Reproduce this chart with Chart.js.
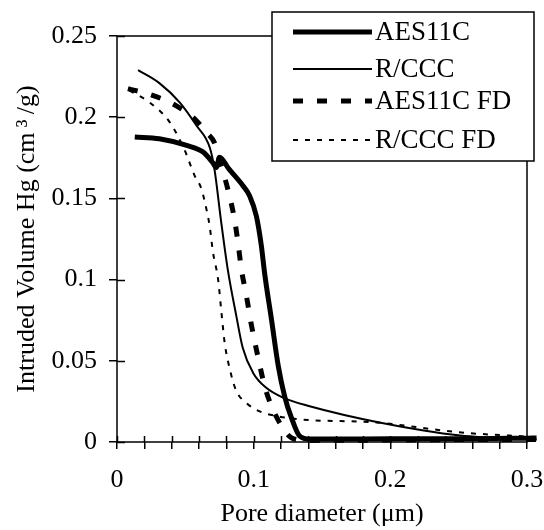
<!DOCTYPE html>
<html>
<head>
<meta charset="utf-8">
<script src="https://cdn.jsdelivr.net/npm/chart.js@4.4.1/dist/chart.umd.min.js"></script>
<style>
  html, body { margin: 0; padding: 0; background: #fff; }
  #wrap { width: 544px; height: 530px; }
</style>
</head>
<body>
<div id="wrap"><canvas id="chart"></canvas></div>
<script>
// values
const aes11cX = [0.013, 0.031, 0.051, 0.063, 0.070, 0.0727, 0.075, 0.082, 0.092, 0.097, 0.102, 0.1056, 0.108, 0.113, 0.118, 0.1227, 0.1276, 0.1337, 0.141, 0.16, 0.2, 0.25, 0.307]
const aes11cY = [0.1878, 0.1867, 0.1826, 0.1785, 0.172, 0.169, 0.1754, 0.168, 0.158, 0.1517, 0.139, 0.121, 0.104, 0.0756, 0.0468, 0.028, 0.015, 0.0036, 0.0018, 0.0018, 0.002, 0.002, 0.0025]

const rcccX = [0.0154, 0.031, 0.046, 0.058, 0.068, 0.0715, 0.076, 0.081, 0.0873, 0.092, 0.0995, 0.109, 0.1215, 0.141, 0.192, 0.251, 0.307]
const rcccY = [0.229, 0.221, 0.209, 0.195, 0.181, 0.167, 0.137, 0.1065, 0.0777, 0.058, 0.0427, 0.0335, 0.0273, 0.022, 0.012, 0.004, 0.0015]

const aes11cFdX = [0.008, 0.026, 0.0435, 0.058, 0.065, 0.0715, 0.075, 0.077, 0.081, 0.086, 0.0885, 0.091, 0.0947, 0.098, 0.103, 0.108, 0.1117, 0.119, 0.1276, 0.1385, 0.2, 0.25, 0.307]
const aes11cFdY = [0.2176, 0.2135, 0.207, 0.198, 0.191, 0.184, 0.174, 0.168, 0.156, 0.137, 0.123, 0.1065, 0.09, 0.0736, 0.053, 0.0345, 0.025, 0.0119, 0.0026, 0.001, 0.0012, 0.0015, 0.0015]

const rcccFdX = [0.009, 0.024, 0.0385, 0.0495, 0.0568, 0.0617, 0.0654, 0.0678, 0.0702, 0.074, 0.0764, 0.0788, 0.0825, 0.087, 0.0947, 0.104, 0.1166, 0.134, 0.19, 0.25, 0.307]
const rcccFdY = [0.2165, 0.209, 0.197, 0.1797, 0.164, 0.156, 0.1435, 0.133, 0.117, 0.100, 0.080, 0.061, 0.045, 0.032, 0.024, 0.019, 0.016, 0.0139, 0.012, 0.006, 0.003]

const seriesNames = ['AES11C', 'R/CCC', 'AES11C FD', 'R/CCC FD']
const xTickLabels = ['0', '0.1', '0.2', '0.3']
const yTickLabels = ['0', '0.05', '0.1', '0.15', '0.2', '0.25']

const FONT = "'Liberation Serif', 'Times New Roman', serif"

function pts(xs, ys){
    return xs.map((x, i) => ({x: x, y: ys[i]}))
}

function mkSet(label, xs, ys, width, dash){
    return {
        label: label,
        data: pts(xs, ys),
        showLine: true,
        borderColor: '#000',
        backgroundColor: '#000',
        borderWidth: width,
        borderDash: dash,
        pointRadius: 0,
        cubicInterpolationMode: 'monotone',
        clip: false
    }
}

// ticks that cross the axis line + frame
const frame = {
    id: 'frame',
    afterDatasetsDraw(chart){
        const ctx = chart.ctx
        const a = chart.chartArea
        const xs = chart.scales.x, ys = chart.scales.y
        ctx.save()
        ctx.strokeStyle = '#000'
        ctx.lineWidth = 1.5
        ctx.strokeRect(a.left, a.top, a.right - a.left, a.bottom - a.top)
        ctx.beginPath()
        for (let v = 0; v <= 0.3001; v += 0.02){
            const px = Math.round(xs.getPixelForValue(v)) + 0.5
            ctx.moveTo(px, a.bottom - 6)
            ctx.lineTo(px, a.bottom)
        }
        for (let v = 0; v <= 0.2501; v += 0.05){
            const py = Math.round(ys.getPixelForValue(v)) + 0.5
            ctx.moveTo(a.left, py)
            ctx.lineTo(a.left + 8, py)
        }
        ctx.stroke()
        ctx.restore()
    },
    afterDraw(chart){
        // legend box, top right
        const ctx = chart.ctx
        const ds = chart.data.datasets
        const bx = 272, by = 12, bw = 262, bh = 149
        const rows = [32, 69, 101, 140]
        ctx.save()
        ctx.fillStyle = '#fff'
        ctx.fillRect(bx, by, bw, bh)
        ctx.strokeStyle = '#000'
        ctx.lineWidth = 1.5
        ctx.strokeRect(bx, by, bw, bh)
        ctx.font = '27px ' + FONT
        ctx.textBaseline = 'middle'
        ctx.fillStyle = '#000'
        ds.forEach((d, i) => {
            ctx.beginPath()
            ctx.lineWidth = d.borderWidth
            ctx.setLineDash(d.borderDash || [])
            ctx.moveTo(293, rows[i])
            ctx.lineTo(372, rows[i])
            ctx.stroke()
            ctx.setLineDash([])
            ctx.fillText(d.label, 375, rows[i] + 1)
        })
        ctx.restore()
    }
}

new Chart(document.getElementById('chart'), {
    type: 'scatter',
    data: {
        datasets: [
            mkSet(seriesNames[0], aes11cX, aes11cY, 5, []),
            mkSet(seriesNames[1], rcccX, rcccY, 2, []),
            mkSet(seriesNames[2], aes11cFdX, aes11cFdY, 5, [10, 14]),
            mkSet(seriesNames[3], rcccFdX, rcccFdY, 2, [5, 7])
        ]
    },
    options: {
        responsive: true,
        maintainAspectRatio: false,
        animation: false,
        layout: { padding: { top: 36, right: 17, left: 0, bottom: 0 } },
        plugins: {
            legend: { display: false },
            tooltip: { enabled: false }
        },
        scales: {
            x: {
                type: 'linear',
                min: 0,
                max: 0.3,
                border: { display: false },
                grid: { drawOnChartArea: false, tickLength: 7, color: '#000', lineWidth: 1.5 },
                ticks: {
                    stepSize: 0.02,
                    autoSkip: false,
                    maxRotation: 0,
                    padding: 16,
                    color: '#000',
                    font: { family: FONT, size: 26 },
                    callback: (v) => {
                        const k = Math.round(v * 10)
                        return Math.abs(v * 10 - k) < 1e-6 ? xTickLabels[k] : ''
                    }
                },
                title: {
                    display: true,
                    text: 'Pore diameter (\u03bcm)',
                    color: '#000',
                    font: { family: FONT, size: 26 },
                    padding: { top: 0, bottom: 0 }
                },
                afterFit: (s) => {
                    s.height = 88
                    // let the "0.3" label hang past the frame like the original
                    s.paddingLeft = 0
                    s.paddingRight = 0
                }
            },
            y: {
                min: 0,
                max: 0.25,
                border: { display: false },
                grid: { drawOnChartArea: false, tickLength: 8, color: '#000', lineWidth: 1.5 },
                ticks: {
                    stepSize: 0.05,
                    padding: 12,
                    color: '#000',
                    font: { family: FONT, size: 26 },
                    callback: (v) => yTickLabels[Math.round(v / 0.05)]
                },
                title: {
                    display: true,
                    text: 'Intruded Volume Hg (cm\u2009\u00b3\u2009/g)',
                    color: '#000',
                    font: { family: FONT, size: 26 },
                    padding: { top: 12, bottom: 0 }
                },
                afterFit: (s) => { s.width = 117 }
            }
        }
    },
    plugins: [frame]
})
</script>
</body>
</html>
